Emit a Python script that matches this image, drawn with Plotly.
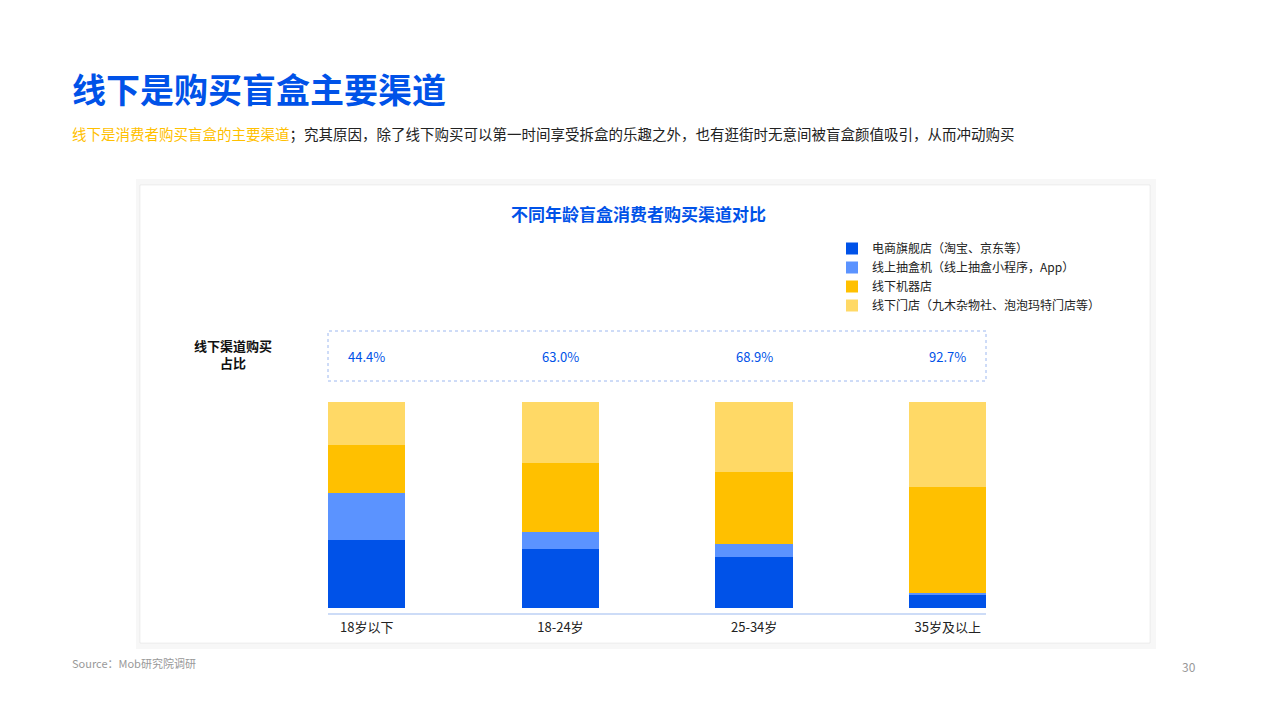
import plotly.graph_objects as go

categories = ["18岁以下", "18-24岁", "25-34岁", "35岁及以上"]
series_names = ["电商旗舰店（淘宝、京东等）", "线上抽盒机（线上抽盒小程序，App）", "线下机器店", "线下门店（九木杂物社、泡泡玛特门店等）"]
ecommerce = [33.0, 28.7, 25.0, 6.3]
online_machine = [22.6, 8.3, 6.1, 1.0]
offline_machine = [23.5, 33.5, 34.7, 51.5]
offline_store = [20.9, 29.5, 34.2, 41.2]
offline_share = ["44.4%", "63.0%", "68.9%", "92.7%"]
colors = ["#0052E8", "#5B93FF", "#FFC000", "#FFD966"]

W, H = 1280, 720
OFF = 8
def px(x): return (x - OFF) / W
def py(y): return 1 - (y - OFF) / H

fig = go.Figure()
xs = list(range(len(categories)))
for name, vals, c in zip(series_names, [ecommerce, online_machine, offline_machine, offline_store], colors):
    fig.add_trace(go.Bar(x=xs, y=vals, name=name, marker=dict(color=c, line=dict(width=0)), width=0.4))

font = "Noto Sans CJK SC"
fig.update_layout(
    width=W, height=H, margin=dict(l=0, r=0, t=0, b=0),
    paper_bgcolor="white", plot_bgcolor="rgba(0,0,0,0)", barmode="stack",
    font=dict(family=font, color="#222"),
    xaxis=dict(domain=[px(328), px(986)], range=[-0.2, 3.197], tickvals=xs, ticktext=categories,
               showgrid=False, zeroline=False, tickfont=dict(size=13, color="#222"), ticks="", anchor="free", position=py(618)),
    yaxis=dict(domain=[py(608), py(402)], range=[0, 100], visible=False),
    legend=dict(x=px(832), y=py(234), xanchor="left", yanchor="top", traceorder="normal",
                font=dict(size=12, color="#222"), bgcolor="rgba(0,0,0,0)", itemwidth=30, tracegroupgap=0),
    showlegend=True,
)
shapes = [
    dict(type="rect", xref="paper", yref="paper", x0=px(136), x1=px(1156), y0=py(649), y1=py(179), fillcolor="rgba(0,0,0,0.03)", line=dict(width=0), layer="below"),
    dict(type="rect", xref="paper", yref="paper", x0=px(140), x1=px(1150), y0=py(643), y1=py(185), fillcolor="white", line=dict(color="rgba(0,0,0,0.06)", width=1), layer="below"),
    dict(type="rect", xref="paper", yref="paper", x0=px(328), x1=px(986), y0=py(381), y1=py(331), line=dict(color="#9DB8F0", width=1, dash="dot")),
    dict(type="line", xref="paper", yref="paper", x0=px(328), x1=px(986), y0=py(614), y1=py(614), line=dict(color="#BCD0F5", width=1.5)),
]
fig.update_layout(shapes=shapes)
P = dict(xref="paper", yref="paper", showarrow=False)
ann = [
    dict(text="<b>线下是购买盲盒主要渠道</b>", x=px(70), y=py(88), xanchor="left", yanchor="middle", font=dict(size=34, color="#0052E8", family=font), **P),
    dict(text="<span style='color:#FFC000'>线下是消费者购买盲盒的主要渠道</span>；究其原因，除了线下购买可以第一时间享受拆盒的乐趣之外，也有逛街时无意间被盲盒颜值吸引，从而冲动购买",
         x=px(70), y=py(133), xanchor="left", yanchor="middle", font=dict(size=14.5, color="#222", family=font), **P),
    dict(text="<b>不同年龄盲盒消费者购买渠道对比</b>", x=px(638), y=py(213), xanchor="center", yanchor="middle", font=dict(size=17, color="#0052E8"), **P),
    dict(text="<b>线下渠道购买<br>占比</b>", x=px(233), y=py(354), xanchor="center", yanchor="middle", font=dict(size=13, color="#111"), **P),
    dict(text="Source：Mob研究院调研", x=px(70), y=py(663), xanchor="left", yanchor="middle", font=dict(size=11, color="#999"), **P),
    dict(text="30", x=px(1198), y=py(666), xanchor="right", yanchor="middle", font=dict(size=12, color="#999"), **P),
]
for i, s in enumerate(offline_share):
    ann.append(dict(text=s, x=xs[i], xref="x", y=py(356), yref="paper", xanchor="center", yanchor="middle", font=dict(size=13, color="#0052E8"), showarrow=False))
fig.update_layout(annotations=ann)
fig.write_html("out.html")
